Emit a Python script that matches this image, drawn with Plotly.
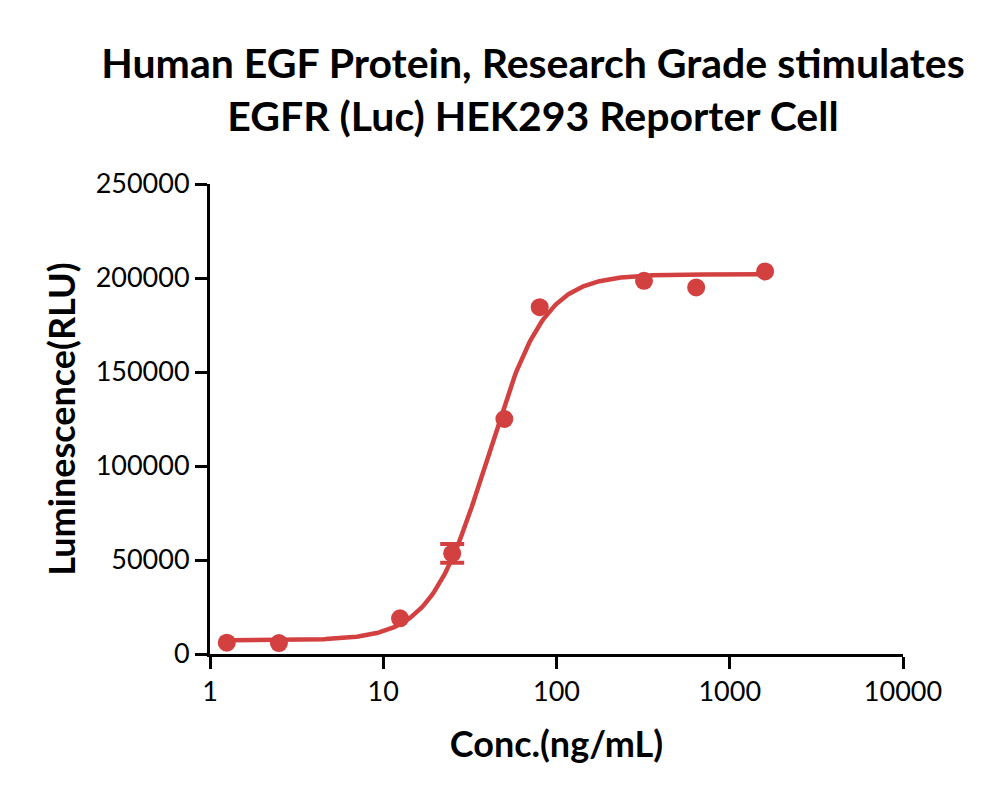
import numpy as np
import plotly.graph_objects as go

# Data
conc = [1.25, 2.5, 12.5, 25, 50, 80, 320, 640, 1600]
lum = [6000, 5800, 19000, 53500, 125000, 184500, 198500, 195000, 203500]
lum_err = [0, 0, 0, 5000, 0, 0, 0, 0, 0]

# 4PL fit parameters (estimated from the fitted curve)
fit_bottom = 7300
fit_top = 202000
fit_ec50 = 40.0
fit_hill = 2.65

x_ticks = [1, 10, 100, 1000, 10000]
y_ticks = [0, 50000, 100000, 150000, 200000, 250000]

color = "rgb(211,64,64)"
font_family = "Lato, 'Open Sans', sans-serif"

xf = np.logspace(np.log10(min(conc)), np.log10(max(conc)), 300)
yf = fit_bottom + (fit_top - fit_bottom) / (1 + (fit_ec50 / xf) ** fit_hill)

err_x = [c for c, e in zip(conc, lum_err) if e > 0]
err_y = [v for v, e in zip(lum, lum_err) if e > 0]
err_v = [e for e in lum_err if e > 0]

fig = go.Figure()
fig.add_trace(go.Scatter(x=xf, y=yf, mode="lines",
                         line=dict(color=color, width=4.5),
                         hoverinfo="skip", cliponaxis=False))
fig.add_trace(go.Scatter(x=err_x, y=err_y, mode="markers",
                         marker=dict(color=color, size=1, opacity=0),
                         error_y=dict(type="data", array=err_v, visible=True,
                                      color=color, thickness=4, width=12),
                         cliponaxis=False, hoverinfo="skip"))
fig.add_trace(go.Scatter(x=conc, y=lum, mode="markers",
                         marker=dict(color=color, size=18),
                         cliponaxis=False))

fig.update_layout(
    width=1000, height=799,
    margin=dict(l=210, r=97, t=184, b=145),
    paper_bgcolor="white", plot_bgcolor="white",
    showlegend=False,
    title=dict(text="<b>Human EGF Protein, Research Grade stimulates<br>EGFR (Luc) HEK293 Reporter Cell</b>",
               x=0.533, xanchor="center", yref="container", y=1 - 78 / 799, yanchor="middle",
               font=dict(family=font_family, size=41, color="black")),
    font=dict(family=font_family, color="black"),
)
fig.update_xaxes(type="log", range=[0, 4], tickvals=x_ticks,
                 ticktext=[str(v) for v in x_ticks],
                 showline=True, linecolor="black", linewidth=3,
                 ticks="outside", ticklen=12, tickwidth=3, tickcolor="black",
                 showgrid=False, zeroline=False,
                 tickfont=dict(size=27, family=font_family),
                 title=dict(text="<b>Conc.(ng/mL)</b>", font=dict(size=36, family=font_family), standoff=26))
fig.update_yaxes(range=[0, 250000], tickvals=y_ticks,
                 ticktext=[str(v) for v in y_ticks],
                 showline=True, linecolor="black", linewidth=3,
                 ticks="outside", ticklen=12, tickwidth=3, tickcolor="black",
                 showgrid=False, zeroline=False,
                 tickfont=dict(size=27, family=font_family),
                 title=dict(text="<b>Luminescence(RLU)</b>", font=dict(size=36, family=font_family), standoff=10))

fig.write_html("out.html")
